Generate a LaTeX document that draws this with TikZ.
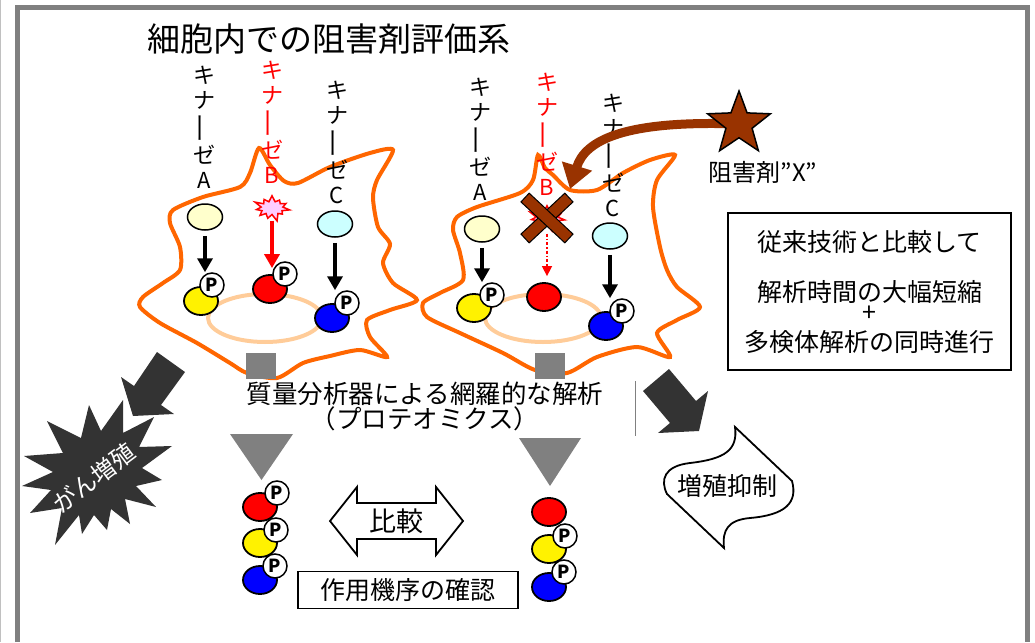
\documentclass[tikz,border=0pt]{standalone}
\usepackage{fontspec}
\setmainfont{Noto Sans CJK JP}
\usepackage{graphicx}
\usetikzlibrary{shapes,arrows.meta,positioning}

\definecolor{cellorange}{HTML}{FF6600}
\definecolor{peach}{HTML}{FFCC99}
\definecolor{kinyellow}{HTML}{FFFFCC}
\definecolor{kincyan}{HTML}{CCFFFF}
\definecolor{inhbrown}{HTML}{993300}
\definecolor{darkblock}{HTML}{333333}
\definecolor{flashpink}{HTML}{FFCCFF}
\definecolor{framegray}{HTML}{808080}

% vertical kinase name
\newcommand{\kinaselabel}[1]{キ\\ナ\\\rotatebox[origin=c]{90}{\scalebox{1.4}[1]{ー}}\\ゼ\\#1}

\begin{document}
\begin{tikzpicture}[x=1pt, y=-1pt,
  cell/.style={draw=cellorange, line width=4pt},
  nucleus/.style={draw=peach, line width=4pt},
  kinase/.style={ellipse, draw, line width=1.5pt, minimum width=35pt, minimum height=26pt, inner sep=0pt},
  mol/.style={ellipse, draw, line width=1.8pt, minimum width=34pt, minimum height=28pt, inner sep=0pt},
  phos/.style={circle, draw, fill=white, line width=1.5pt, minimum size=24pt, inner sep=0pt, font=\fontsize{18}{18}\selectfont\bfseries},
  kinarrow/.style={-{Triangle[length=14pt,width=15pt]}, line width=4pt, shorten <=5pt},
  flash/.style={starburst, starburst points=11, starburst point height=8pt, draw=red, fill=flashpink, line width=1.5pt, minimum width=38pt, minimum height=29pt, inner sep=0pt},
  vlabel/.style={align=center, inner sep=0pt, font=\fontsize{22}{25}\selectfont},
  jtext/.style={inner sep=0pt, font=\fontsize{25}{25}\selectfont},
  textbox/.style={draw, line width=1.5pt, inner sep=0pt}]

\useasboundingbox (0,0) rectangle (1035,642);

% the frame
\draw[framegray!50, line width=1pt] (0.5,0) -- (0.5,642);
\draw[framegray, line width=5pt] (17.5,642) -- (17.5,7.5) -- (1027.5,7.5) -- (1027.5,642);

\node[inner sep=0pt, font=\fontsize{33}{33}\selectfont] (title) at (329,39) {細胞内での阻害剤評価系};

% the untreated cell

    \draw[cell] plot [smooth cycle, tension=0.45] coordinates {(259,148) (270,165) (284,181) (298,183)
    (330,167) (370,153) (393,150) (377,180) (373,198) (378,227) (390,244) (383,263)
    (393,283) (417,300) (390,310) (367,320) (370,337) (387,357) (360,350) (330,356)
    (303,363) (277,378) (247,373) (230,363) (197,343) (160,323) (140,307) (143,297)
    (163,283) (180,270) (180,247) (170,223) (173,210) (203,197) (240,187) (250,173)};
    \draw[nucleus] (265,318) ellipse (57pt and 24pt);

    \node[vlabel] (lA1) at (204,127) {\kinaselabel{A}};
    \node[vlabel, text=red] (lB1) at (272,122) {\kinaselabel{B}};
    \node[vlabel] (lC1) at (337,142) {\kinaselabel{C}};

    \node[kinase, fill=kinyellow] (kA1) at (205,217) {};
    \node[flash] (kB1) at (272,208) {};
    \node[kinase, fill=kincyan] (kC1) at (335,224) {};

    \node[mol, fill=yellow] (mA1) at (201,301) {};
    \node[phos] (pA1) at (212,285) {P};
    \node[mol, fill=red] (mB1) at (270,289) {};
    \node[phos] (pB1) at (285,274) {P};
    \node[mol, fill=blue] (mC1) at (332,318) {};
    \node[phos] (pC1) at (347,303) {P};

    \draw[kinarrow] (kA1) -- (kA1 |- pA1.north);
    \draw[kinarrow, red, shorten >=6pt] (kB1) -- (kB1 |- mB1.north);
    \draw[kinarrow] (kC1) -- (kC1 |- pC1.north);

% the cell with the inhibitor

    \draw[cell] plot [smooth cycle, tension=0.45] coordinates {(538,155) (545,168) (553,175) (570,190)
    (597,190) (623,173) (650,160) (675,155) (657,180) (653,207) (660,247) (667,270)
    (677,287) (700,307) (677,320) (657,333) (670,357) (637,347) (597,357) (567,373)
    (535,370) (503,353) (460,333) (427,317) (423,303) (440,293) (463,280) (460,253)
    (453,230) (457,217) (477,207) (520,193) (533,180)};
    \draw[nucleus] (543,318) ellipse (58pt and 24pt);

    \node[vlabel] (lA2) at (480,139) {\kinaselabel{A}};
    \node[vlabel, text=red] (lB2) at (547,134) {\kinaselabel{B}};
    \node[vlabel] (lC2) at (613,155) {\kinaselabel{C}};

    \node[kinase, fill=kinyellow] (kA2) at (482,229) {};
    \node[flash] (kB2) at (547,218) {};
    \node[kinase, fill=kincyan] (kC2) at (610,236) {};

    \node[mol, fill=yellow] (mA2) at (474,308) {};
    \node[phos] (pA2) at (492,295) {P};
    \node[mol, fill=red] (mB2) at (544,297) {};
    \node[mol, fill=blue] (mC2) at (606,326) {};
    \node[phos] (pC2) at (622,311) {P};

    \draw[kinarrow] (kA2) -- (kA2 |- pA2.north);
    \draw[red, line width=1.5pt, dash dot, -{Triangle[length=10pt,width=10pt]}, shorten <=8pt, shorten >=6pt] (kB2) -- (kB2 |- mB2.north);
    \draw[kinarrow] (kC2) -- (kC2 |- pC2.north);

    % the block on kinase B
    \node[rectangle, fill=inhbrown, draw, line width=1pt, minimum width=60pt, minimum height=12pt, rotate=43] (cross1) at (547,218) {};
    \node[rectangle, fill=inhbrown, draw, line width=1pt, minimum width=60pt, minimum height=12pt, rotate=-43] (cross2) at (547,218) {};

    % the inhibitor
    \coordinate (hit) at (570,189);
    \node[star, star points=5, star point ratio=2.4, minimum size=66pt, inner sep=0pt] (drug) at (739,124) {};
    \draw[inhbrown, line width=9pt, -{Triangle[length=24pt,width=30pt]}] (drug.center) .. controls (625,120) and (585,140) .. (hit);
    \node[star, star points=5, star point ratio=2.4, minimum size=66pt, inner sep=0pt, fill=inhbrown, draw, line width=1.5pt] at (drug) {};
    \node[inner sep=0pt, font=\fontsize{24}{24}\selectfont] (drugname) at (763,172) {阻害剤”X”};

% the gray arrows

    \fill[framegray] (246,353) rectangle (276,379);
    \fill[framegray] (535,353) rectangle (565,379);
    \fill[framegray] (230,434) -- (293,434) -- (261.5,480) -- cycle;
    \fill[framegray] (519,438) -- (581,438) -- (550,486) -- cycle;

    \node[align=center, inner sep=0pt, font=\fontsize{25.5}{23}\selectfont] (ms) at (425,406) {質量分析器による網羅的な解析\\（プロテオミクス）};
    \draw[framegray, line width=1pt] (635,381) -- (635,436);

% the merits

    \node[textbox, minimum width=283pt, minimum height=157pt] (merit) at (869.5,291.5) {};
    \node[jtext] (merit1) at (869.5,242) {従来技術と比較して};
    \node[jtext] (merit2) at (869.5,292) {解析時間の大幅短縮};
    \node[jtext] (merit3) at (869.5,314) {+};
    \node[jtext] (merit4) at (869.5,342) {多検体解析の同時進行};

% proliferation

    \fill[darkblock] (157,352) -- (185,372) -- (161,405) -- (174,414) -- (133,416) -- (121,377) -- (134,386) -- cycle;
    \fill[darkblock] (172,446) -- (139,447) -- (154,417) -- (123,433) -- (123,400) -- (101,431) -- (89,405)
      -- (81,438) -- (47,421) -- (63,453) -- (24,456) -- (53,472) -- (22,486) -- (51,490) -- (30,513)
      -- (62,508) -- (55,545) -- (79,515) -- (82,534) -- (94,515) -- (107,530) -- (111,509) -- (130,524)
      -- (125,499) -- (156,507) -- (136,486) -- (162,480) -- (142,468) -- cycle;
    \node[inner sep=0pt, rotate=37, text=white, font=\fontsize{24}{24}\selectfont] (cancer) at (94,478) {がん増殖};

    \fill[darkblock] (643,391) -- (669,369) -- (696,401) -- (708,391) -- (699,431) -- (658,433) -- (670,423) -- cycle;
    \draw[line width=1.8pt, fill=white] (735,427) -- (792,481) .. controls (798,503) and (785,515) .. (750,518)
      .. controls (728,520) and (722,530) .. (724,548) -- (667,494) .. controls (660,480) and (664,466) .. (690,463)
      .. controls (725,459) and (738,450) .. (735,427) -- cycle;
    \node[jtext] (supp) at (727,486) {増殖抑制};

% the phosphorylated proteins found

    \node[mol, fill=red] (sR1) at (260,507) {};
    \node[phos] (sP1) at (277,493) {P};
    \node[mol, fill=yellow] (sY1) at (260,543) {};
    \node[phos] (sP2) at (276,530) {P};
    \node[mol, fill=blue] (sB1) at (260,580) {};
    \node[phos] (sP3) at (275,566) {P};

    \node[mol, fill=red] (sR2) at (549,512) {};
    \node[mol, fill=yellow] (sY2) at (549,549) {};
    \node[phos] (sP4) at (565,536) {P};
    \node[mol, fill=blue] (sB2) at (549,587) {};
    \node[phos] (sP5) at (564,572) {P};

    \draw[line width=1.8pt, fill=white] (330,521) -- (357,487) -- (357,503) -- (436,503) -- (436,487)
      -- (463,521) -- (436,555) -- (436,539) -- (357,539) -- (357,555) -- cycle;
    \node[inner sep=0pt, font=\fontsize{27}{27}\selectfont] (cmp) at (396,521) {比較};

    \node[textbox, minimum width=220pt, minimum height=37pt, font=\fontsize{25}{25}\selectfont] (moa) at (408,590) {作用機序の確認};

\end{tikzpicture}
\end{document}
